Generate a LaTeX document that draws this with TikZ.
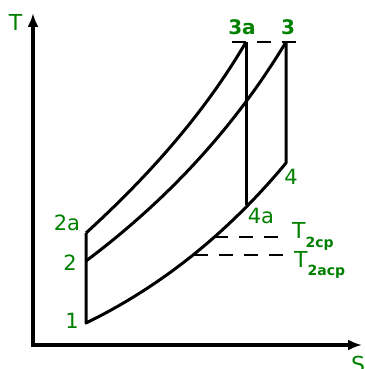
\documentclass[tikz,border=0pt]{standalone}
\usepackage{fontspec}
\setmainfont{DejaVu Sans}
\usetikzlibrary{arrows.meta}
\definecolor{labelgreen}{RGB}{0,128,0}

\begin{document}
\begin{tikzpicture}[x=1pt, y=-1pt,
    axis/.style={line width=3.2pt, {Latex[length=14pt,width=11pt]}-{Latex[length=14pt,width=11pt]}},
    process/.style={line width=3pt, line join=round},
    guide/.style={line width=1.5pt, dash pattern=on 14pt off 11pt},
    statelbl/.style={text=labelgreen, font=\fontsize{21}{21}\selectfont, inner sep=0pt},
    toplbl/.style={statelbl, font=\fontsize{20}{20}\selectfont\bfseries},
    templbl/.style={text=labelgreen, font=\fontsize{22}{22}\selectfont, inner sep=0pt, anchor=base west}]
    \useasboundingbox (0,0) rectangle (364,369);

    % Axes T and S
    \coordinate (O) at (33,345);
    \coordinate (Ttip) at (33,13);
    \coordinate (Stip) at (362,345);
    \draw[axis] (Ttip) -- (O) -- (Stip);
    \node[templbl, anchor=center] (Tlbl) at (15.5,22) {T};
    \node[templbl, anchor=north west] (Slbl) at (351,356) {S};

    % States of the cycle
    \coordinate (s1) at (86,323);
    \coordinate (s2) at (86,261);
    \coordinate (s2a) at (86,233);
    \coordinate (s3a) at (246,42);
    \coordinate (s3) at (286,42);
    \coordinate (s4) at (286,163);
    \coordinate (s4a) at (246,205);

    % Compression 1-2a and heat rejection 4-1
    \draw[process] (s2a) -- (s1) .. controls (160,287) and (227,234) .. (s4) -- (s3);
    % Heat addition 2-3 and 2a-3a
    \draw[process] (s2) .. controls (170,198) and (236,125) .. (s3);
    \draw[process] (s2a) .. controls (153,172) and (207,109) .. (s3a);
    % Expansion 3a-4a
    \draw[process] (s3a) -- (s4a);

    % Temperature guide lines
    \coordinate (top end) at (302,42);
    \coordinate (cp start) at (214,237);
    \coordinate (cp end) at (284,237);
    \coordinate (acp start) at (194,255);
    \coordinate (acp end) at (289,255);
    \draw[guide] ([xshift=-14pt]s3a) -- (top end);
    \draw[guide] (cp start) -- (cp end);
    \draw[guide] (acp start) -- (acp end);

    % State labels
    \node[statelbl] (l1) at (72,321) {1};
    \node[statelbl] (l2) at (70,263) {2};
    \node[statelbl] (l2a) at (67,223) {2a};
    \node[toplbl] (l3a) at (242,27) {3a};
    \node[toplbl] (l3) at (288,27) {3};
    \node[statelbl] (l4) at (291,177) {4};
    \node[statelbl] (l4a) at (261,216) {4a};
    \node[templbl] (lcp) at (292,238) {T\raisebox{-9pt}{\fontsize{14}{14}\selectfont\bfseries 2cp}};
    \node[templbl] (lacp) at (294,267) {T\raisebox{-8pt}{\fontsize{14}{14}\selectfont\bfseries 2acp}};
\end{tikzpicture}
\end{document}
